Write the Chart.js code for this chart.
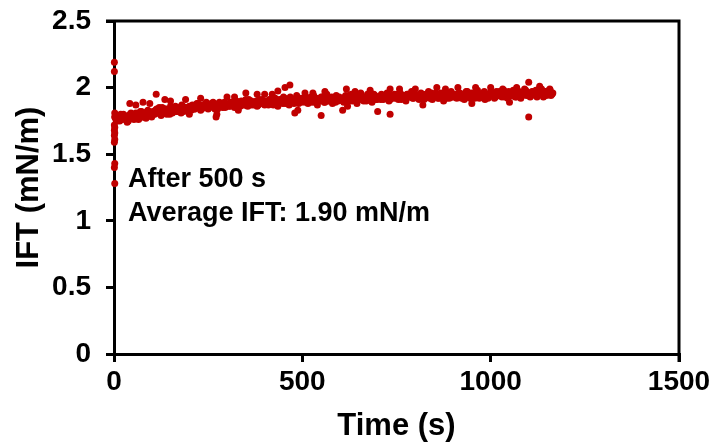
<!DOCTYPE html>
<html>
<head>
<meta charset="utf-8">
<script src="https://cdn.jsdelivr.net/npm/chart.js@4/dist/chart.umd.min.js"></script>
<style>
  html, body { margin: 0; padding: 0; background: #fff; }
  #wrap { width: 712px; height: 442px; }
</style>
</head>
<body>
<div id="wrap"><canvas id="iftChart" width="712" height="442"></canvas></div>
<script>
// early transient right after the drop forms (t ~ 0)
const earlyTimes = [1, 1, 2, 2, 1, 2, 1, 2, 1, 2, 1, 2, 1, 2];
const earlyIft = [2.19, 2.12, 1.81, 1.78, 1.72, 1.70, 1.68, 1.66, 1.64, 1.61, 1.59, 1.43, 1.40, 1.28];

// main band, every 5 s
const bandTimes = [
  5, 10, 15, 20, 25, 30, 35, 40, 45, 50, 55, 60, 65, 70, 75, 80, 85, 90, 95, 100,
  105, 110, 115, 120, 125, 130, 135, 140, 145, 150, 155, 160, 165, 170, 175, 180, 185, 190, 195, 200,
  205, 210, 215, 220, 225, 230, 235, 240, 245, 250, 255, 260, 265, 270, 275, 280, 285, 290, 295, 300,
  305, 310, 315, 320, 325, 330, 335, 340, 345, 350, 355, 360, 365, 370, 375, 380, 385, 390, 395, 400,
  405, 410, 415, 420, 425, 430, 435, 440, 445, 450, 455, 460, 465, 470, 475, 480, 485, 490, 495, 500,
  505, 510, 515, 520, 525, 530, 535, 540, 545, 550, 555, 560, 565, 570, 575, 580, 585, 590, 595, 600,
  605, 610, 615, 620, 625, 630, 635, 640, 645, 650, 655, 660, 665, 670, 675, 680, 685, 690, 695, 700,
  705, 710, 715, 720, 725, 730, 735, 740, 745, 750, 755, 760, 765, 770, 775, 780, 785, 790, 795, 800,
  805, 810, 815, 820, 825, 830, 835, 840, 845, 850, 855, 860, 865, 870, 875, 880, 885, 890, 895, 900,
  905, 910, 915, 920, 925, 930, 935, 940, 945, 950, 955, 960, 965, 970, 975, 980, 985, 990, 995, 1000,
  1005, 1010, 1015, 1020, 1025, 1030, 1035, 1040, 1045, 1050, 1055, 1060, 1065, 1070, 1075, 1080, 1085, 1090, 1095, 1100,
  1105, 1110, 1115, 1120, 1125, 1130, 1135, 1140, 1145, 1150, 1155, 1160, 1165
];
const bandIft = [
  1.76, 1.79, 1.75, 1.78, 1.80, 1.77, 1.74, 1.79, 1.81, 1.77, 1.80, 1.78, 1.76, 1.82, 1.79, 1.81, 1.77, 1.83, 1.80, 1.78,
  1.80, 1.83, 1.81, 1.85, 1.79, 1.82, 1.84, 1.80, 1.83, 1.86, 1.81, 1.84, 1.82, 1.85, 1.83, 1.87, 1.82, 1.85, 1.84, 1.86,
  1.83, 1.86, 1.84, 1.88, 1.85, 1.83, 1.87, 1.85, 1.89, 1.84, 1.86, 1.88, 1.85, 1.87, 1.84, 1.89, 1.86, 1.88, 1.85, 1.87,
  1.86, 1.89, 1.87, 1.85, 1.90, 1.88, 1.86, 1.89, 1.87, 1.91, 1.86, 1.88, 1.90, 1.87, 1.89, 1.86, 1.91, 1.88, 1.90, 1.87,
  1.89, 1.87, 1.91, 1.88, 1.92, 1.90, 1.86, 1.91, 1.89, 1.93, 1.88, 1.90, 1.87, 1.92, 1.89, 1.91, 1.94, 1.88, 1.90, 1.92,
  1.90, 1.93, 1.88, 1.91, 1.89, 1.94, 1.92, 1.87, 1.90, 1.93, 1.91, 1.89, 1.95, 1.90, 1.92, 1.88, 1.91, 1.94, 1.90, 1.92,
  1.91, 1.89, 1.94, 1.92, 1.90, 1.95, 1.91, 1.93, 1.88, 1.92, 1.96, 1.91, 1.93, 1.90, 1.94, 1.92, 1.89, 1.95, 1.91, 1.93,
  1.92, 1.95, 1.91, 1.93, 1.96, 1.90, 1.94, 1.92, 1.95, 1.93, 1.91, 1.96, 1.94, 1.92, 1.90, 1.95, 1.93, 1.97, 1.92, 1.94,
  1.93, 1.91, 1.96, 1.94, 1.92, 1.95, 1.97, 1.93, 1.91, 1.94, 1.96, 1.92, 1.95, 1.93, 1.90, 1.96, 1.94, 1.92, 1.97, 1.93,
  1.94, 1.92, 1.96, 1.93, 1.95, 1.91, 1.97, 1.94, 1.92, 1.96, 1.95, 1.93, 1.98, 1.92, 1.94, 1.96, 1.91, 1.95, 1.93, 1.97,
  1.95, 1.92, 1.97, 1.94, 1.96, 1.93, 1.98, 1.95, 1.92, 1.96, 1.94, 1.98, 1.93, 1.95, 1.97, 1.92, 1.96, 1.99, 1.94, 1.96,
  1.93, 1.97, 1.95, 1.98, 1.94, 1.96, 1.99, 1.93, 1.97, 1.95, 1.98, 1.94, 1.96
];

// second pass through the band, in between the first one
const bandTimes2 = [
  3, 8, 13, 18, 23, 28, 33, 38, 43, 48, 53, 58, 63, 68, 73, 78, 83, 88, 93, 98,
  103, 108, 113, 118, 123, 128, 133, 138, 143, 148, 153, 158, 163, 168, 173, 178, 183, 188, 193, 198,
  203, 208, 213, 218, 223, 228, 233, 238, 243, 248, 253, 258, 263, 268, 273, 278, 283, 288, 293, 298,
  303, 308, 313, 318, 323, 328, 333, 338, 343, 348, 353, 358, 363, 368, 373, 378, 383, 388, 393, 398,
  403, 408, 413, 418, 423, 428, 433, 438, 443, 448, 453, 458, 463, 468, 473, 478, 483, 488, 493, 498,
  503, 508, 513, 518, 523, 528, 533, 538, 543, 548, 553, 558, 563, 568, 573, 578, 583, 588, 593, 598,
  603, 608, 613, 618, 623, 628, 633, 638, 643, 648, 653, 658, 663, 668, 673, 678, 683, 688, 693, 698,
  703, 708, 713, 718, 723, 728, 733, 738, 743, 748, 753, 758, 763, 768, 773, 778, 783, 788, 793, 798,
  803, 808, 813, 818, 823, 828, 833, 838, 843, 848, 853, 858, 863, 868, 873, 878, 883, 888, 893, 898,
  903, 908, 913, 918, 923, 928, 933, 938, 943, 948, 953, 958, 963, 968, 973, 978, 983, 988, 993, 998,
  1003, 1008, 1013, 1018, 1023, 1028, 1033, 1038, 1043, 1048, 1053, 1058, 1063, 1068, 1073, 1078, 1083, 1088, 1093, 1098,
  1103, 1108, 1113, 1118, 1123, 1128, 1133, 1138, 1143, 1148, 1153, 1158, 1163
];
const bandIft2 = [
  1.78, 1.75, 1.77, 1.80, 1.76, 1.79, 1.78, 1.75, 1.80, 1.78, 1.76, 1.81, 1.79, 1.77, 1.82, 1.78, 1.80, 1.82, 1.79, 1.81,
  1.82, 1.80, 1.84, 1.81, 1.83, 1.85, 1.81, 1.84, 1.82, 1.80, 1.85, 1.83, 1.86, 1.82, 1.84, 1.81, 1.86, 1.83, 1.85, 1.83,
  1.85, 1.87, 1.84, 1.86, 1.88, 1.85, 1.84, 1.87, 1.86, 1.88, 1.85, 1.87, 1.89, 1.84, 1.86, 1.88, 1.87, 1.85, 1.89, 1.86,
  1.88, 1.86, 1.89, 1.87, 1.90, 1.88, 1.86, 1.90, 1.88, 1.87, 1.89, 1.91, 1.87, 1.89, 1.88, 1.90, 1.87, 1.89, 1.91, 1.88,
  1.90, 1.88, 1.91, 1.89, 1.87, 1.92, 1.90, 1.89, 1.91, 1.88, 1.92, 1.90, 1.89, 1.93, 1.90, 1.88, 1.91, 1.90, 1.92, 1.89,
  1.91, 1.89, 1.92, 1.90, 1.93, 1.91, 1.89, 1.92, 1.90, 1.91, 1.93, 1.89, 1.92, 1.91, 1.90, 1.93, 1.92, 1.89, 1.91, 1.93,
  1.92, 1.90, 1.93, 1.91, 1.94, 1.92, 1.90, 1.93, 1.92, 1.94, 1.91, 1.93, 1.90, 1.92, 1.95, 1.91, 1.93, 1.92, 1.94, 1.91,
  1.93, 1.91, 1.94, 1.92, 1.95, 1.93, 1.91, 1.94, 1.93, 1.92, 1.95, 1.93, 1.91, 1.94, 1.92, 1.95, 1.93, 1.94, 1.92, 1.95,
  1.94, 1.92, 1.95, 1.93, 1.91, 1.95, 1.94, 1.92, 1.96, 1.93, 1.95, 1.94, 1.92, 1.96, 1.93, 1.95, 1.92, 1.94, 1.96, 1.93,
  1.95, 1.93, 1.94, 1.96, 1.92, 1.95, 1.94, 1.97, 1.93, 1.95, 1.94, 1.92, 1.96, 1.94, 1.95, 1.93, 1.97, 1.94, 1.92, 1.95,
  1.94, 1.96, 1.93, 1.95, 1.97, 1.94, 1.96, 1.93, 1.95, 1.97, 1.94, 1.96, 1.95, 1.93, 1.97, 1.95, 1.94, 1.96, 1.98, 1.95,
  1.96, 1.94, 1.97, 1.95, 1.93, 1.96, 1.98, 1.95, 1.97, 1.94, 1.96, 1.98, 1.95
];

// stray points above / below the band
const strayTimes = [
  42, 58, 77, 95, 112, 135, 150, 190, 200, 230, 271, 273, 300, 320, 330, 350, 380, 400, 420, 435,
  454, 467, 480, 488, 507, 528, 550, 560, 607, 617, 620, 640, 680, 700, 733, 733, 758, 800, 820, 857,
  880, 913, 950, 960, 1000, 1032, 1050, 1069, 1101, 1101, 1130, 1157
];
const strayIft = [
  1.88, 1.87, 1.89, 1.88, 1.95, 1.91, 1.90, 1.91, 1.80, 1.92, 1.78, 1.80, 1.93, 1.93, 1.83, 1.96, 1.95, 1.95, 1.95, 1.975,
  2.00, 2.02, 1.81, 1.83, 1.96, 1.96, 1.79, 1.97, 1.83, 1.99, 1.86, 1.97, 1.98, 1.82, 1.80, 1.99, 1.99, 1.99, 1.87, 2.00,
  1.99, 2.00, 1.88, 2.00, 2.00, 1.99, 1.89, 2.00, 2.04, 1.78, 2.01, 1.99
];

const xTicks = [0, 500, 1000, 1500];
const yTicks = [0, 0.5, 1, 1.5, 2, 2.5];
const noteLines = ['After 500 s', 'Average IFT: 1.90 mN/m'];

const RED = '#C00000';
const FONT = "'Liberation Sans', Arial, sans-serif";

function toPoints(xs, ys) {
    return xs.map((x, i) => ({ x: x, y: ys[i] }));
}

function markerSet(xs, ys) {
    return {
        data: toPoints(xs, ys),
        backgroundColor: RED,
        borderColor: RED,
        pointRadius: 3.5,
        pointBorderWidth: 0,
        clip: false
    };
}

// top and right sides of the box, plus the two text lines
const framePlugin = {
    id: 'frame',
    beforeDatasetsDraw(chart) {
        const { ctx, chartArea: a } = chart;
        ctx.save();
        ctx.strokeStyle = '#000';
        ctx.lineWidth = 3;
        ctx.beginPath();
        ctx.moveTo(a.left - 8, a.top);
        ctx.lineTo(a.right, a.top);
        ctx.lineTo(a.right, a.bottom + 8);
        ctx.stroke();
        ctx.restore();
    },
    afterDraw(chart) {
        const { ctx, chartArea: a } = chart;
        ctx.save();
        ctx.fillStyle = '#000';
        ctx.font = 'bold 27px ' + FONT;
        ctx.textBaseline = 'alphabetic';
        ctx.fillText(noteLines[0], a.left + 14, a.top + 166);
        ctx.fillText(noteLines[1], a.left + 14, a.top + 200);
        ctx.restore();
    }
};

const tickFont = { family: FONT, size: 28, weight: 'bold' };
const titleFont = { family: FONT, size: 31, weight: 'bold', lineHeight: 1.2 };

const ctx = document.getElementById('iftChart').getContext('2d');
new Chart(ctx, {
    type: 'scatter',
    data: {
        datasets: [
            markerSet(bandTimes, bandIft),
            markerSet(bandTimes2, bandIft2),
            markerSet(strayTimes, strayIft),
            markerSet(earlyTimes, earlyIft)
        ]
    },
    options: {
        responsive: false,
        animation: false,
        events: [],
        layout: { padding: { top: 21, right: 33, left: 0, bottom: 0 } },
        plugins: {
            legend: { display: false },
            tooltip: { enabled: false }
        },
        scales: {
            x: {
                type: 'linear',
                min: 0,
                max: 1500,
                afterBuildTicks: s => { s.ticks = xTicks.map(v => ({ value: v })); },
                afterFit: s => { s.height = 88; s.paddingLeft = 0; s.paddingRight = 0; },
                grid: { drawOnChartArea: false, drawTicks: true, tickLength: 8, color: '#000', lineWidth: 3 },
                border: { display: true, color: '#000', width: 3 },
                ticks: { color: '#000', padding: 3, maxRotation: 0, font: tickFont, callback: v => String(v) },
                title: { display: true, text: 'Time (s)', color: '#000', padding: { top: 0, bottom: 0 }, font: { family: FONT, size: 31, weight: 'bold', lineHeight: 1.02 } }
            },
            y: {
                type: 'linear',
                min: 0,
                max: 2.5,
                afterBuildTicks: s => { s.ticks = yTicks.map(v => ({ value: v })); },
                afterFit: s => { s.width = 114; s.paddingTop = 0; s.paddingBottom = 0; },
                grid: { drawOnChartArea: false, drawTicks: true, tickLength: 8, color: '#000', lineWidth: 3 },
                border: { display: true, color: '#000', width: 3 },
                ticks: { color: '#000', padding: 15, font: tickFont, callback: v => String(v) },
                title: { display: true, text: 'IFT (mN/m)', color: '#000', padding: { top: 11, bottom: 0 }, font: titleFont }
            }
        }
    },
    plugins: [framePlugin]
});
</script>
</body>
</html>
